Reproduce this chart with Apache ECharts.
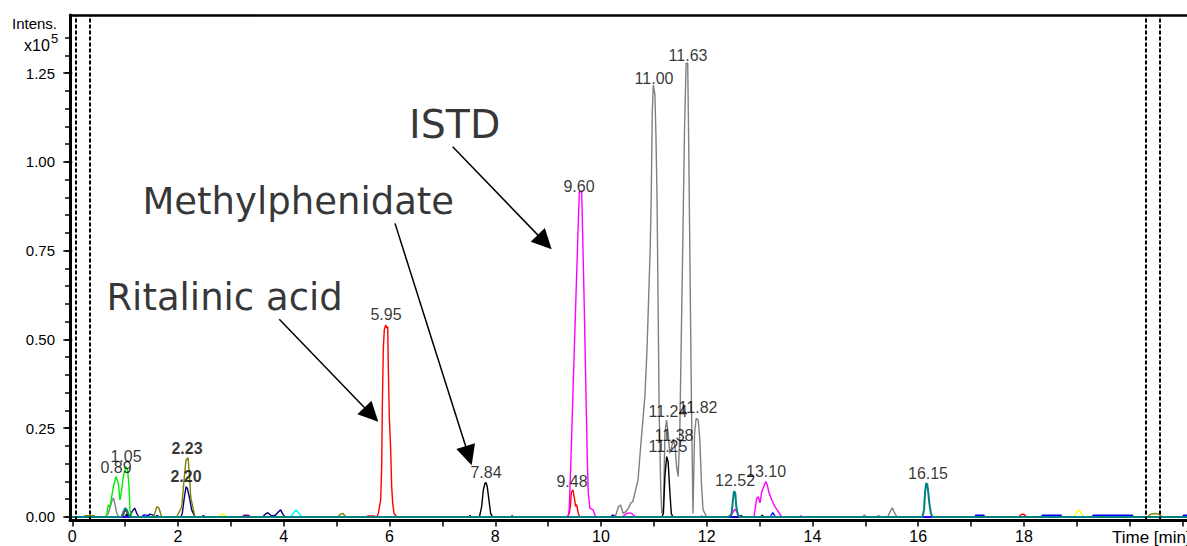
<!DOCTYPE html>
<html>
<head>
<meta charset="utf-8">
<script src="https://cdn.jsdelivr.net/npm/echarts@6/dist/echarts.min.js"></script>
<style>html,body{margin:0;padding:0;background:#fff;}#c{width:1187px;height:546px;}</style>
</head>
<body>
<div id="c"></div>
<script>
// ---------- axis ticks ----------
const xTickValues = [0,1,2,3,4,5,6,7,8,9,10,11,12,13,14,15,16,17,18,19,20,21];
const xLabelValues = [0,2,4,6,8,10,12,14,16,18];
const yTickValues = [0,0.05,0.10,0.15,0.20,0.25,0.30,0.35,0.40,0.45,0.50,0.55,0.60,0.65,0.70,0.75,0.80,0.85,0.90,0.95,1.00,1.05,1.10,1.15,1.20,1.25,1.30,1.35];
const yLabelValues = [0,0.25,0.50,0.75,1.00,1.25];

// ---------- traces: [time (min), intensity (x10^5)] ----------
const grayTrace = [[0,0],[0.62,0],[0.68,0.01],[0.72,0.03],[0.76,0.05],[0.78,0.053],[0.81,0.035],[0.84,0.01],[0.88,0],
 [10.20,0],[10.28,0.005],[10.33,0.029],[10.37,0.034],[10.42,0.010],[10.47,0.015],[10.52,0.025],[10.56,0.039],[10.60,0.043],[10.64,0.067],[10.70,0.104],[10.75,0.198],[10.83,0.339],[10.87,0.47],[10.90,0.611],[10.93,0.752],[10.95,0.90],[10.97,1.14],[10.99,1.217],[11.02,1.19],[11.04,1.07],[11.06,0.90],[11.08,0.60],[11.10,0.30],[11.13,0.08],[11.15,0.01],[11.18,0.02],[11.21,0.236],[11.24,0.273],[11.27,0.236],[11.30,0.18],[11.33,0.194],[11.37,0.217],[11.40,0.198],[11.43,0.142],[11.46,0.114],[11.49,0.236],[11.52,0.517],[11.55,0.80],[11.58,1.09],[11.61,1.278],[11.64,1.278],[11.66,1.04],[11.69,0.611],[11.71,0.33],[11.74,0.01],[11.77,0.236],[11.80,0.278],[11.84,0.273],[11.87,0.217],[11.90,0.095],[11.93,0.02],[12.0,0],
 [14.95,0],[14.98,0.006],[15.02,0],[15.20,0],[15.25,0.004],[15.30,0],[15.42,0],[15.47,0.015],[15.51,0.026],[15.55,0.012],[15.60,0],[21.1,0]];
const yellowTrace = [[0,0],[2.78,0],[2.82,0.008],[2.87,0.007],[2.92,0],[18.95,0],[19.0,0.012],[19.04,0.02],[19.08,0.012],[19.13,0],[21.1,0]];
const cyanTrace = [[0,0],[0.95,0],[0.98,0.01],[1.02,0],[4.12,0],[4.18,0.01],[4.23,0.02],[4.28,0.012],[4.35,0],[21.1,0]];
const purpleTrace = [[0,0],[3.20,0],[3.25,0.005],[3.33,0.005],[3.38,0],[21.1,0]];
const navyTrace = [[0,0],[1.08,0],[1.13,0.015],[1.18,0.025],[1.22,0.01],[1.26,0],[1.42,0],[1.46,0.008],[1.52,0.006],[1.56,0],[1.60,0.004],[1.66,0],
 [2.05,0],[2.08,0.01],[2.113,0.048],[2.15,0.085],[2.175,0.081],[2.213,0.057],[2.258,0.02],[2.32,0],[2.45,0],[2.48,0.004],[2.52,0],
 [3.60,0],[3.65,0.008],[3.70,0.012],[3.77,0.003],[3.84,0.005],[3.90,0.015],[3.94,0.02],[3.99,0.006],[4.03,0],[21.1,0]];
const oliveTrace = [[0,0],[0.20,0],[0.25,0.004],[0.40,0.004],[0.45,0],[1.53,0],[1.57,0.015],[1.60,0.029],[1.64,0.025],[1.69,0],
 [1.975,0],[2.07,0.029],[2.113,0.104],[2.15,0.16],[2.19,0.167],[2.213,0.123],[2.24,0.057],[2.277,0.029],[2.32,0],
 [5.02,0],[5.07,0.008],[5.12,0.01],[5.17,0],[20.33,0],[20.40,0.008],[20.47,0.01],[20.55,0.008],[20.62,0],[21.1,0]];
const greenTrace = [[0,0],[0.62,0],[0.65,0.005],[0.68,0.034],[0.713,0.029],[0.776,0.085],[0.827,0.114],[0.87,0.095],[0.902,0.048],[0.934,0.076],[0.965,0.114],[1.016,0.142],[1.048,0.132],[1.072,0.085],[1.091,0.02],[1.124,0],[21.1,0]];
const redTrace = [[0,0],[0.95,0],[0.98,0.012],[1.01,0.02],[1.04,0.01],[1.07,0],[5.55,0],[5.60,0.003],[5.70,0.003],
 [5.757,0],[5.788,0.01],[5.833,0.048],[5.852,0.142],[5.863,0.30],[5.882,0.47],[5.901,0.527],[5.928,0.541],[5.947,0.532],[5.966,0.536],[5.977,0.423],[5.996,0.283],[6.022,0.189],[6.041,0.085],[6.06,0.039],[6.085,0.01],[6.136,0],
 [9.36,0],[9.40,0.01],[9.42,0.03],[9.44,0.07],[9.47,0.076],[9.50,0.05],[9.52,0.03],[9.54,0.035],[9.57,0.01],[9.60,0],
 [10.20,0],[10.24,0.005],[10.28,0],[17.90,0],[17.95,0.007],[18.0,0.008],[18.05,0],[21.1,0]];
const blackTrace = [[0,0],[1.00,0],[1.03,0.008],[1.06,0],[7.50,0],[7.52,0.004],[7.55,0],
 [7.70,0],[7.743,0.029],[7.774,0.076],[7.806,0.095],[7.825,0.097],[7.849,0.085],[7.88,0.048],[7.913,0.01],[7.95,0],
 [8.30,0],[8.32,0.004],[8.34,0],[11.15,0],[11.18,0.01],[11.21,0.118],[11.243,0.17],[11.27,0.156],[11.30,0.076],[11.33,0.01],[11.36,0],
 [12.60,0],[12.65,0.004],[12.70,0],[13.02,0],[13.05,0.005],[13.08,0],[21.1,0]];
const magentaTrace = [[0,0],[9.38,0],[9.40,0.025],[9.44,0.2],[9.48,0.40],[9.52,0.59],[9.56,0.78],[9.59,0.916],[9.635,0.916],[9.678,0.631],[9.716,0.349],[9.741,0.16],[9.76,0.067],[9.79,0.025],[9.85,0.02],[9.90,0],
 [10.40,0],[10.45,0.006],[10.50,0.011],[10.57,0.011],[10.62,0.004],[10.66,0],[11.88,0],[11.90,0.003],[11.93,0],
 [12.42,0],[12.47,0.006],[12.51,0.017],[12.535,0.022],[12.56,0.017],[12.60,0.005],[12.64,0],
 [12.894,0],[12.945,0.053],[12.975,0.057],[13.008,0.04],[13.04,0.071],[13.07,0.082],[13.115,0.10],[13.146,0.09],[13.178,0.068],[13.23,0.048],[13.29,0.029],[13.354,0.015],[13.418,0],
 [13.75,0],[13.78,0.003],[13.82,0],[21.1,0]];
const blueTrace = [[0,0],[1.30,0],[1.36,0.006],[1.44,0.004],[1.48,0],[10.18,0],[10.22,0.006],[10.26,0],[13.20,0],[13.25,0.012],[13.30,0],
 [17.07,0],[17.09,0.005],[17.24,0.005],[17.26,0],[18.33,0],[18.35,0.005],[18.70,0.005],[18.72,0],[19.29,0],[19.31,0.005],[20.05,0.005],[20.07,0],[21.0,0],[21.02,0.005],[21.1,0.005]];
const tealTrace = [[0,0],[0.93,0],[0.97,0.015],[1.00,0.025],[1.03,0.02],[1.07,0.005],[1.10,0],
 [12.40,0],[12.45,0.004],[12.47,0.01],[12.49,0.039],[12.51,0.067],[12.52,0.073],[12.54,0.067],[12.56,0.029],[12.59,0.006],[12.62,0],
 [16.08,0],[16.11,0.02],[16.13,0.07],[16.15,0.095],[16.17,0.093],[16.19,0.07],[16.21,0.04],[16.24,0.01],[16.27,0],[21.1,0]];

// ---------- peak labels ----------
const peakLabelText = ['0.89','1.05','2.23','2.20','5.95','7.84','9.48','9.60','11.00','11.63','11.24','11.82','11.38','11.25','12.52','13.10','16.15'];
// ---------- annotations ----------
const annotationText = ['ISTD','Methylphenidate','Ritalinic acid'];
// arrows: [fromTime, fromIntensity, toTime, toIntensity]
const arrowData = [[7.195,1.043,9.067,0.754],[6.104,0.827,7.554,0.146],[3.915,0.557,5.788,0.268]];
// dashed time-window markers (min)
const windowMarkers = [0.074,0.331,20.31,20.57];

// ---------- layout (label anchors in data units) ----------
const peakLabelPos = [[0.827,0.117],[1.016,0.148],[2.169,0.170],[2.150,0.0915],[5.934,0.548],[7.825,0.103],[9.451,0.0775],[9.584,0.908],[11.003,1.213],[11.646,1.277],[11.267,0.275],[11.835,0.286],[11.381,0.207],[11.267,0.176],[12.535,0.080],[13.121,0.106],[16.185,0.100]];
const boldLabels = ['2.23','2.20'];
const annotationPos = [[6.369,1.108],[1.326,0.888],[0.645,0.618]];
const annotationSize = [39.5,37,37];

const traces = [
  ['gray', grayTrace, '#808080'],
  ['yellow', yellowTrace, '#ffff00'],
  ['cyan', cyanTrace, '#00ffff'],
  ['purple', purpleTrace, '#800080'],
  ['navy', navyTrace, '#000080'],
  ['olive', oliveTrace, '#808000'],
  ['green', greenTrace, '#00ee00'],
  ['red', redTrace, '#ff0000'],
  ['black', blackTrace, '#000000'],
  ['magenta', magentaTrace, '#ff00ff'],
  ['blue', blueTrace, '#0000ff'],
  ['teal', tealTrace, '#008080']
];

const X_MIN = -0.0435, X_MAX = 21.084, Y_MIN = -0.01, Y_MAX = 1.414;
const FONT = '"Liberation Sans", Arial, sans-serif';

const series = traces.map(([name, data, color], i) => {
  const s = {
    name, type: 'line', data, symbol: 'none', showSymbol: false, animation: false,
    xAxisIndex: 0, yAxisIndex: 0, silent: true,
    lineStyle: { color, width: name === 'teal' ? 2 : 1.4 },
    z: 2 + i * 0.01
  };
  if (i === 0) {
    s.markLine = {
      silent: true, symbol: 'none', animation: false,
      label: { show: false },
      lineStyle: { color: '#000', width: 2, type: [4, 2] },
      data: windowMarkers.map(v => ({ xAxis: v }))
    };
  }
  return s;
});

series.push({
  type: 'custom', name: 'arrows', silent: true, animation: false, z: 5,
  xAxisIndex: 0, yAxisIndex: 0,
  data: arrowData,
  encode: { x: [0, 2], y: [1, 3] },
  renderItem: function (params, api) {
    const p1 = api.coord([api.value(0), api.value(1)]);
    const p2 = api.coord([api.value(2), api.value(3)]);
    const dx = p2[0] - p1[0], dy = p2[1] - p1[1];
    const len = Math.hypot(dx, dy), ux = dx / len, uy = dy / len;
    const hl = 20, hw = 9.8;
    const bx = p2[0] - ux * hl, by = p2[1] - uy * hl;
    return {
      type: 'group', children: [
        { type: 'line', shape: { x1: p1[0], y1: p1[1], x2: bx + ux * 2, y2: by + uy * 2 }, style: { stroke: '#000', lineWidth: 1.5 } },
        { type: 'polygon', shape: { points: [[p2[0], p2[1]], [bx - uy * hw, by + ux * hw], [bx + uy * hw, by - ux * hw]] }, style: { fill: '#000' } }
      ]
    };
  }
});

series.push({
  type: 'scatter', name: 'peakLabels', silent: true, animation: false, z: 10,
  symbolSize: 0,
  data: peakLabelPos.map((p, i) => ({
    value: p, name: peakLabelText[i],
    label: { fontWeight: boldLabels.includes(peakLabelText[i]) ? 'bold' : 'normal' }
  })),
  label: { show: true, position: 'top', distance: 0, formatter: '{b}', color: '#000', fontSize: 16, fontFamily: FONT }
});

series.push({
  type: 'scatter', name: 'annotations', silent: true, animation: false, z: 10,
  symbolSize: 0,
  data: annotationPos.map((p, i) => ({ value: p, name: annotationText[i], label: { fontSize: annotationSize[i] } })),
  label: { show: true, position: 'right', distance: 0, formatter: '{b}', color: '#000', fontFamily: '"DejaVu Sans", Verdana, sans-serif' }
});

const chart = echarts.init(document.getElementById('c'), null, { renderer: 'svg' });
chart.setOption({
  animation: false,
  backgroundColor: '#fff',
  grid: { left: 70, right: 0, top: 15, bottom: 25.45, containLabel: false, outerBoundsMode: 'none' },
  xAxis: [{
    type: 'value', min: X_MIN, max: X_MAX, position: 'bottom',
    axisLine: { show: true, onZero: false, lineStyle: { color: '#000', width: 3 } },
    axisTick: { show: true, customValues: xTickValues, length: 6, lineStyle: { color: '#000', width: 1.5 } },
    axisLabel: { show: true, customValues: xLabelValues, formatter: v => String(v), color: '#000', fontSize: 16, fontFamily: FONT, margin: 8 },
    splitLine: { show: false }
  }, {
    type: 'value', min: X_MIN, max: X_MAX, position: 'top',
    axisLine: { show: true, onZero: false, lineStyle: { color: '#000', width: 2.5 } },
    axisTick: { show: false }, axisLabel: { show: false }, splitLine: { show: false }
  }],
  yAxis: [{
    type: 'value', min: Y_MIN, max: Y_MAX, position: 'left',
    axisLine: { show: true, onZero: false, lineStyle: { color: '#000', width: 3 } },
    axisTick: { show: true, customValues: yTickValues, length: 5, lineStyle: { color: '#000', width: 1.5 } },
    axisLabel: { show: true, customValues: yLabelValues, formatter: v => v.toFixed(2), color: '#000', fontSize: 15, fontFamily: FONT, margin: 15 },
    splitLine: { show: false }
  }, {
    type: 'value', min: Y_MIN, max: Y_MAX, position: 'left',
    axisLine: { show: false },
    axisTick: { show: true, customValues: yLabelValues, length: 9, lineStyle: { color: '#000', width: 1.5 } },
    axisLabel: { show: false }, splitLine: { show: false }
  }],
  graphic: [
    { type: 'text', x: 12, y: 16, style: { text: 'Intens.', font: '15px ' + FONT, fill: '#000', verticalAlign: 'top' } },
    { type: 'text', x: 24, y: 37, style: { text: 'x10', font: '16px ' + FONT, fill: '#000', verticalAlign: 'top' } },
    { type: 'text', x: 51, y: 32, style: { text: '5', font: '13px ' + FONT, fill: '#000', verticalAlign: 'top' } },
    { type: 'text', x: 1112, y: 529, style: { text: 'Time [min]', font: '17px ' + FONT, fill: '#000', verticalAlign: 'top' } }
  ],
  series
});
</script>
</body>
</html>
